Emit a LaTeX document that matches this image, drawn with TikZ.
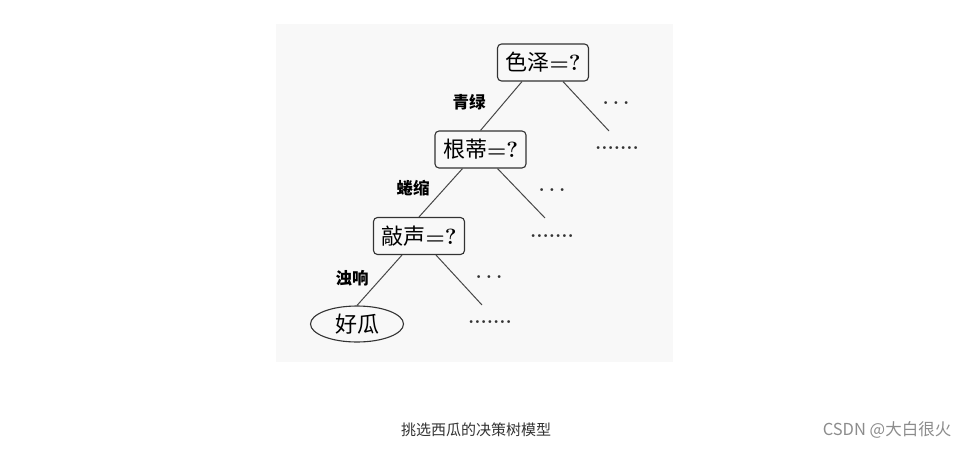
\documentclass[tikz,border=0pt]{standalone}
\usepackage{fontspec}
\usepackage{amsmath}
\newfontfamily\cjk{Noto Sans CJK SC}
\usetikzlibrary{shapes.geometric}
\definecolor{inkgray}{HTML}{333333}
\definecolor{paneltone}{HTML}{F8F8F8}
\newcommand{\fewdots}{\textbf{.\hspace{4pt}.\hspace{4pt}.}}
\newcommand{\manydots}{\textbf{.......}}
\tikzset{
    test/.style={draw=inkgray, line width=1.1pt, rounded corners=4pt,
        minimum width=91pt, minimum height=37pt, inner sep=2pt,
        font=\fontsize{22}{24}\selectfont},
    leaf/.style={draw=inkgray, line width=1.1pt, ellipse,
        minimum width=93pt, minimum height=36pt, inner sep=0pt,
        font=\fontsize{22}{24}\selectfont},
    branch/.style={draw=inkgray!90, line width=1pt},
    attr/.style={font=\cjk\bfseries\fontsize{16.5}{18}\selectfont},
    more/.style={font=\fontsize{20}{22}\selectfont, text=inkgray}
}
\begin{document}
\begin{tikzpicture}[x=1pt,y=-1pt]
    \useasboundingbox (0,0) rectangle (970,450);
    \fill[paneltone] (276,24) rectangle (673,362);
    % tree nodes
    \node[test] (sez) at (543,62.5) {{\cjk 色泽}\textbf{=?}};
    \node[test] (gendi) at (480.5,149.5) {{\cjk 根蒂}\textbf{=?}};
    \node[test] (qiaosheng) at (419,236) {{\cjk 敲声}\textbf{=?}};
    \node[leaf] (haogua) at (357,324) {\cjk 好瓜};
    % free ends of the other branches
    \coordinate (rest1) at (609,131);
    \coordinate (rest2) at (545,218);
    \coordinate (rest3) at (482,305);
    \draw[branch] ([xshift=-21pt]sez.south) -- (gendi.north);
    \draw[branch] ([xshift=20pt]sez.south) -- (rest1);
    \draw[branch] ([xshift=-18pt]gendi.south) -- (qiaosheng.north);
    \draw[branch] ([xshift=17pt]gendi.south) -- (rest2);
    \draw[branch] ([xshift=-17pt]qiaosheng.south) -- (haogua.north);
    \draw[branch] ([xshift=17pt]qiaosheng.south) -- (rest3);
    % branch values
    \node[attr] (qinglv) at (469,102) {青绿};
    \node[attr] (quansuo) at (413,188) {蜷缩};
    \node[attr] (zhuoxiang) at (352,278) {浊响};
    % dots
    \node[more] (dotsa1) at (616,103) {\fewdots};
    \node[more] (dotsa2) at (617,148) {\manydots};
    \node[more] (dotsb1) at (552,190) {\fewdots};
    \node[more] (dotsb2) at (552,236) {\manydots};
    \node[more] (dotsc1) at (489,277) {\fewdots};
    \node[more] (dotsc2) at (490,322) {\manydots};
    % caption and mark
    \node[font=\cjk\fontsize{15}{17}\selectfont, text=inkgray] (caption) at (476,430) {挑选西瓜的决策树模型};
    \node[font=\cjk\fontsize{16.5}{18}\selectfont, text=black!45] (mark) at (887,430) {CSDN @大白很火};
\end{tikzpicture}
\end{document}
